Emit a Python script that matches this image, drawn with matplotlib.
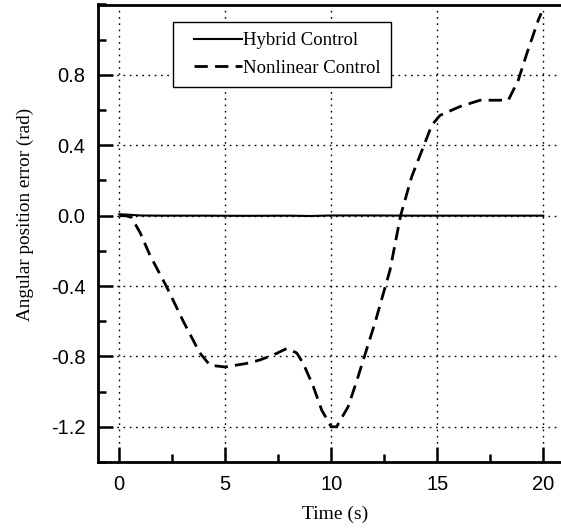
import matplotlib
matplotlib.use('Agg')
import matplotlib.pyplot as plt
from matplotlib.ticker import FixedLocator, MultipleLocator
from matplotlib.legend_handler import HandlerLine2D
import numpy as np

# values
t_nonlinear = [0.0, 0.3, 0.58, 1.0, 1.45, 2.24, 3.02, 3.8, 4.28, 4.99, 6.0, 6.64,
               7.3, 7.9, 8.37, 8.68, 9.15, 9.55, 10.0, 10.25, 10.8, 11.2, 11.59,
               12.06, 12.77, 13.27, 13.79, 14.34, 14.74, 15.13, 16.07, 17.02,
               18.35, 18.82, 19.22, 19.76, 19.9]
e_nonlinear = [0.0, 0.0, -0.01, -0.1, -0.225, -0.405, -0.6, -0.78, -0.85, -0.86,
               -0.84, -0.82, -0.79, -0.755, -0.78, -0.84, -0.97, -1.105, -1.2,
               -1.2, -1.085, -0.94, -0.79, -0.61, -0.31, 0.0, 0.22, 0.39, 0.514,
               0.57, 0.62, 0.656, 0.656, 0.77, 0.92, 1.11, 1.15]

t_hybrid = [0.0, 0.5, 1.0, 2.0, 4.0, 6.0, 8.0, 9.0, 10.0, 12.0, 14.0, 16.0, 18.0, 20.0]
e_hybrid = [0.008, 0.005, 0.001, 0.0, 0.0, -0.001, 0.0, -0.002, 0.001, 0.001,
            0.0, 0.0, 0.0, 0.0]

x_ticks = [0, 5, 10, 15, 20]
y_ticks = [-1.2, -0.8, -0.4, 0.0, 0.4, 0.8]


class ShiftedLine(HandlerLine2D):
    # legend line starts a bit right of the box edge, text right after it
    def create_artists(self, legend, orig_handle, xdescent, ydescent, width, height,
                       fontsize, trans):
        off = 0.57 * fontsize
        return super().create_artists(legend, orig_handle, xdescent - off, ydescent,
                                      width - off, height, fontsize, trans)


plt.rcParams['font.family'] = 'Liberation Sans'

fig = plt.figure(figsize=(5.61, 5.29), dpi=100)
ax = fig.add_axes([98 / 561, 1 - 462 / 529, (564.5 - 98) / 561, (462 - 4.5) / 529])

ax.plot(t_hybrid, e_hybrid, color='black', lw=1.5, label='Hybrid Control', zorder=3)
ax.plot(t_nonlinear, e_nonlinear, color='black', lw=2.0, linestyle=(0, (4.8, 2.6)),
        label='Nonlinear Control', zorder=3)

ax.set_xlim(-1, 21)
ax.set_ylim(-1.4, 1.2)
ax.xaxis.set_major_locator(FixedLocator(x_ticks))
ax.xaxis.set_minor_locator(MultipleLocator(2.5))
ax.yaxis.set_major_locator(FixedLocator(y_ticks))
ax.yaxis.set_minor_locator(MultipleLocator(0.2))
ax.set_yticklabels(['%.1f' % v for v in y_ticks])

ax.tick_params(which='major', direction='in', length=11, width=1.8, labelsize=14.5, pad=9)
ax.tick_params(which='minor', direction='in', length=6, width=1.8)
ax.tick_params(top=False, right=False, which='both')

ax.grid(True, which='major', color='black', lw=1.0, linestyle=(0, (1.2, 3.3)))

for s in ax.spines.values():
    s.set_linewidth(2.0)

ax.set_xlabel('Time (s)', family='Liberation Serif', fontsize=14, labelpad=9)
ax.set_ylabel('Angular position error (rad)', family='Liberation Serif', fontsize=13.8,
              labelpad=12)
ax.xaxis.label.set_x(0.508)
ax.yaxis.label.set_y(0.542)

leg = ax.legend(loc='upper left', bbox_to_anchor=((173 - 98) / 466.5, 1 - 17.5 / 457.5),
                prop={'family': 'Liberation Serif', 'size': 13.5},
                fancybox=False, framealpha=1, edgecolor='black', handlelength=3.13,
                handletextpad=0.05, borderpad=0.55, labelspacing=0.55, borderaxespad=0,
                handler_map={plt.Line2D: ShiftedLine()})
leg.get_frame().set_linewidth(1.0)

fig.savefig('out.png', dpi=100)
